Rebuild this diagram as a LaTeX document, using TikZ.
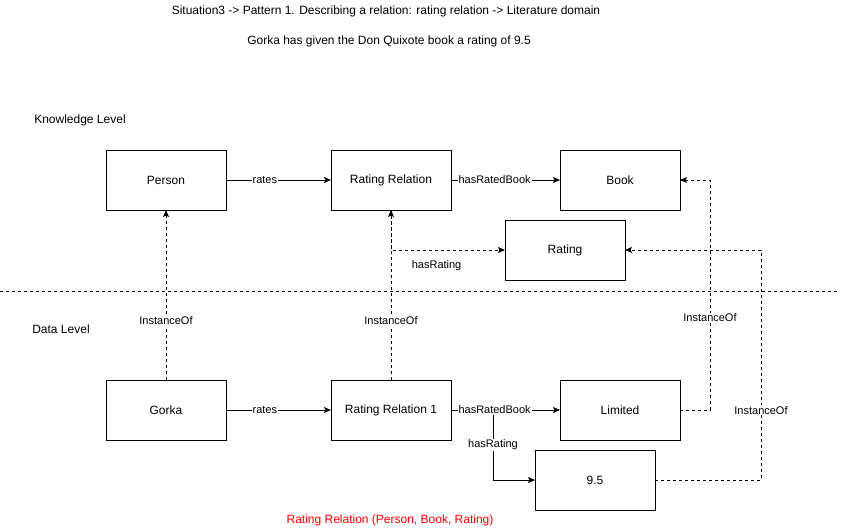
\documentclass[tikz,border=0pt]{standalone}
\usepackage{fontspec}
\setmainfont{Liberation Sans}
\usetikzlibrary{arrows.meta,positioning}

\begin{document}
\begin{tikzpicture}[x=1pt,y=-1pt,every node/.style={outer sep=0pt},
  line width=0.8pt,font=\fontsize{12}{14}\selectfont]
\tikzstyle{box}=[draw,minimum width=120pt,minimum height=60pt,inner sep=0pt]
\tikzstyle{rel}=[-{Stealth[length=7pt,width=6pt,inset=1.5pt]}]
\tikzstyle{inst}=[rel,dash pattern=on 3pt off 3pt]
\tikzstyle{lbl}=[fill=white,inner sep=1pt,font=\fontsize{11}{13}\selectfont]
\useasboundingbox (0,0) rectangle (842,531);
%
\node (title) at (386,11) {Situation3 -> Pattern 1. Describing a relation: rating relation -> Literature domain};
\node (sentence) at (389,41) {Gorka has given the Don Quixote book a rating of 9.5};
\node (know) at (80,120) {Knowledge Level};
\node (data) at (61,329) {Data Level};
\node (sig) [red] at (390,520) {Rating Relation (Person, Book, Rating)};
\draw [dash pattern=on 3pt off 3pt] (0,291) -- (837,291);
%
% knowledge level
\node (person) [box] at (166,180) {Person};
\node (ratrel) [box] at (391,180) {Rating Relation};
\node (book) [box] at (620,180) {Book};
\node (rating) [box] at (565,250) {Rating};
% data level
\node (gorka) [box] at (166,410) {Gorka};
\node (ratrel1) [box] at (391,410) {Rating Relation 1};
\node (limited) [box] at (620,410) {Limited};
\node (value) [box] at (595,480) {9.5};
%
\draw [rel] (person) -- node[lbl,pos=0.37]{rates} (ratrel);
\draw [rel] (ratrel) -- node[lbl,pos=0.4]{hasRatedBook} (book);
\draw [inst] (ratrel.south) |- (rating.west) node[pos=0.7,below=10pt,lbl]{hasRating};
\draw [rel] (gorka) -- node[lbl,pos=0.37]{rates} (ratrel1);
\draw [rel] (ratrel1.east) -- (493,410) |- (value.west) node[pos=0.25,lbl]{hasRating};
\draw [rel] (ratrel1) -- node[lbl,pos=0.4]{hasRatedBook} (limited);
%
\draw [inst] (gorka) -- node[lbl,pos=0.35]{InstanceOf} (person);
\draw [inst] (ratrel1) -- node[lbl,pos=0.35]{InstanceOf} (ratrel);
\draw [inst] (limited.east) -- (710,410) |- (book.east) node[lbl,pos=0.2]{InstanceOf};
\draw [inst] (value.east) -- (761,480) |- (rating.east) node[lbl,pos=0.152]{InstanceOf};
\end{tikzpicture}
\end{document}
